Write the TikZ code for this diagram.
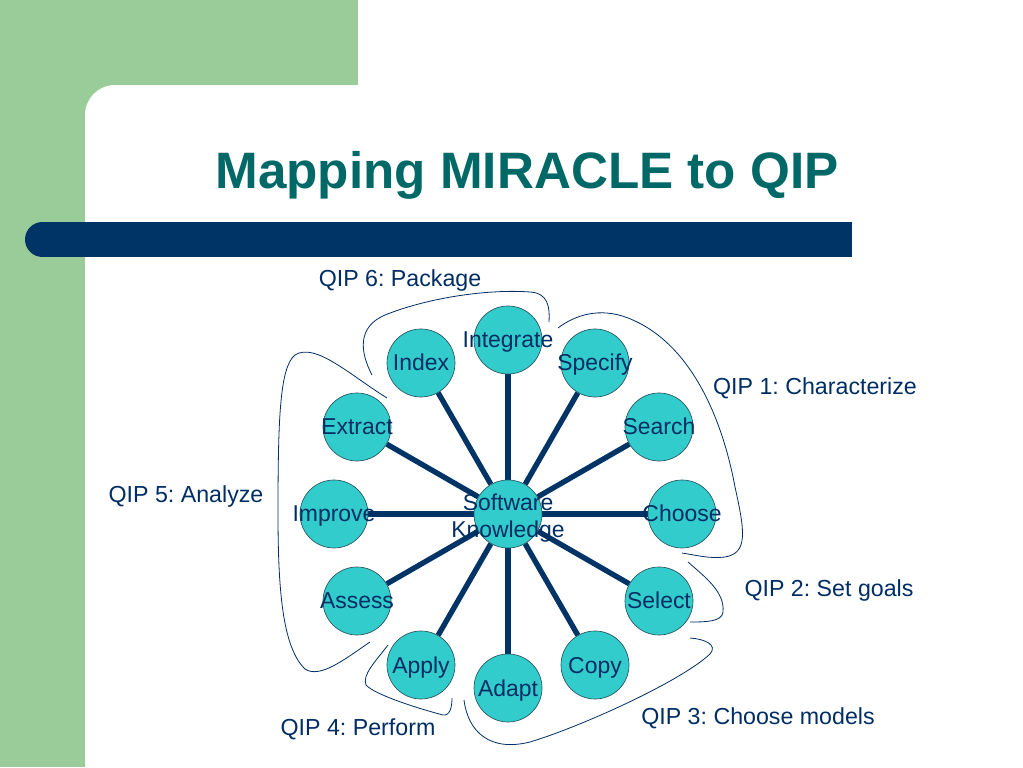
\documentclass[tikz,border=0pt]{standalone}
\usepackage{fontspec}
\setmainfont{Liberation Sans}
\usetikzlibrary{backgrounds}
\usepackage{xcolor}
\frenchspacing

\definecolor{slidegreen}{RGB}{153,204,153}
\definecolor{barblue}{RGB}{0,51,102}
\definecolor{titleteal}{RGB}{0,104,102}
\definecolor{stagefill}{RGB}{51,204,204}
\definecolor{stageline}{RGB}{40,84,96}
\definecolor{textnavy}{RGB}{0,45,100}

\begin{document}
\begin{tikzpicture}[x=0.75pt, y=0.75pt,
        stage/.style={
            circle,
            draw=stageline,
            line width=0.5pt,
            fill=stagefill,
            minimum size=51pt,
            inner sep=0pt,
            text height=12pt,
            text depth=0pt,
            text=textnavy,
            font=\fontsize{17.2}{20.25}\selectfont
        },
        spoke/.style={-, line width=4pt, draw=barblue},
        qip/.style={anchor=base, text=textnavy, font=\fontsize{17.4}{20}\selectfont},
        bracket/.style={-, draw=textnavy, line width=0.6pt}
    ]
        \useasboundingbox (0,0) rectangle (1023,767);

        % slide background
        \fill[slidegreen] (0,0) rectangle (85,767);
        \fill[slidegreen] (0,682) rectangle (358,767);
        \fill[slidegreen] (85,652) rectangle (115,682);
        \fill[white] (115,652) circle (30);
        \fill[barblue] (42.5,510) rectangle (852,545);
        \fill[barblue] (42.5,527.5) circle (17.5);

        \node (title) [anchor=base, text=titleteal, font=\fontsize{38.4}{46}\selectfont\bfseries]
            at (527,578) {Mapping MIRACLE to QIP};

        % hub and stages
        \node (hub) [stage] at (508,253) {};
        \node (hubtext) [align=center, text=textnavy, font=\fontsize{17.2}{20.25}\selectfont]
            at ([yshift=-3]hub.center) {Software\\Knowledge};

        \node (integrate) [stage] at (508,427) {\makebox[0pt]{Integrate}};
        \node (specify) [stage] at (595,404) {\makebox[0pt]{Specify}};
        \node (search) [stage] at (659,340) {\makebox[0pt]{Search}};
        \node (choose) [stage] at (682,253) {\makebox[0pt]{Choose}};
        \node (select) [stage] at (659,166) {\makebox[0pt]{Select}};
        \node (copy) [stage] at (595,102) {\makebox[0pt]{Copy}};
        \node (adapt) [stage] at (508,79) {\makebox[0pt]{Adapt}};
        \node (apply) [stage] at (421,102) {\makebox[0pt]{Apply}};
        \node (assess) [stage] at (357,166) {\makebox[0pt]{Assess}};
        \node (improve) [stage] at (334,253) {\makebox[0pt]{Improve}};
        \node (extract) [stage] at (357,340) {\makebox[0pt]{Extract}};
        \node (index) [stage] at (421,404) {\makebox[0pt]{Index}};

        \begin{pgfonlayer}{background}
            \draw[spoke] (hub) -- (integrate);
            \draw[spoke] (hub) -- (specify);
            \draw[spoke] (hub) -- (search);
            \draw[spoke] (hub) -- (choose);
            \draw[spoke] (hub) -- (select);
            \draw[spoke] (hub) -- (copy);
            \draw[spoke] (hub) -- (adapt);
            \draw[spoke] (hub) -- (apply);
            \draw[spoke] (hub) -- (assess);
            \draw[spoke] (hub) -- (improve);
            \draw[spoke] (hub) -- (extract);
            \draw[spoke] (hub) -- (index);
        \end{pgfonlayer}

        % QIP steps
        \node (qip6) [qip] at (400,480) {QIP 6: Package};
        \node (qip1) [qip] at (815,372) {QIP 1: Characterize};
        \node (qip5) [qip] at (186,264) {QIP 5: Analyze};
        \node (qip2) [qip] at (829,171) {QIP 2: Set goals};
        \node (qip3) [qip] at (758,43) {QIP 3: Choose models};
        \node (qip4) [qip] at (358,32) {QIP 4: Perform};

        % brackets round the groups
        \draw[bracket] (372,392) .. controls (360,415) and (357,440) .. (385,452)
            .. controls (430,470) and (490,478) .. (530,475)
            .. controls (548,474) and (550,460) .. (549,445);
        \draw[bracket] (558,439) .. controls (575,452) and (600,460) .. (628,449)
            .. controls (690,425) and (722,350) .. (735,280)
            .. controls (745,235) and (748,214) .. (725,210)
            .. controls (710,208) and (695,212) .. (682,214);
        \draw[bracket] (387,369) .. controls (350,392) and (315,425) .. (295,412)
            .. controls (280,400) and (278,350) .. (278,254)
            .. controls (278,180) and (282,120) .. (305,98)
            .. controls (320,88) and (345,108) .. (370,125);
        \draw[bracket] (688,205) .. controls (705,190) and (725,175) .. (723,155)
            .. controls (722,145) and (705,145) .. (690,145);
        \draw[bracket] (690,129) .. controls (705,128) and (718,122) .. (710,113)
            .. controls (680,85) and (580,40) .. (530,25)
            .. controls (490,15) and (468,35) .. (464,67);
        \draw[bracket] (388,122) .. controls (375,105) and (362,92) .. (366,82)
            .. controls (375,72) and (420,58) .. (443,52)
            .. controls (450,51) and (452,60) .. (452,69);
\end{tikzpicture}
\end{document}
